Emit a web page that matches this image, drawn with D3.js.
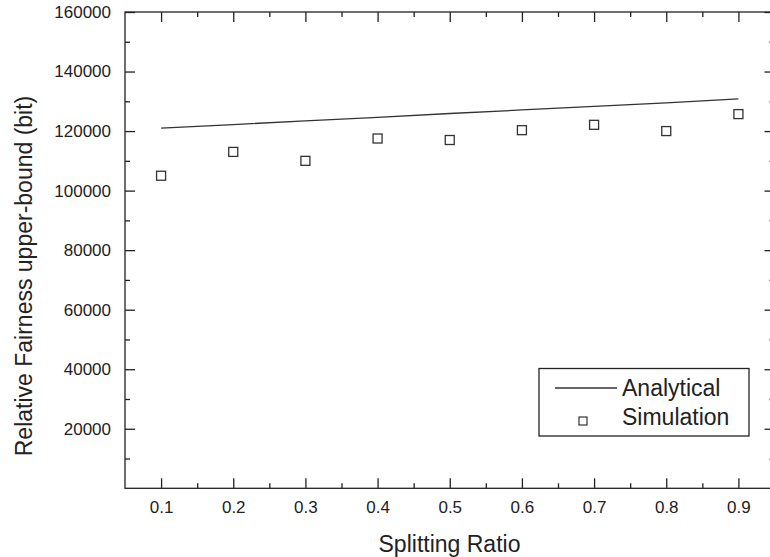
<!DOCTYPE html>
<html>
<head>
<meta charset="utf-8">
<script src="https://cdn.jsdelivr.net/npm/d3@7"></script>
<style>
  html, body { margin: 0; padding: 0; background: #fff; }
  svg { display: block; font-family: "Liberation Sans", Arial, sans-serif; }
  .axis text { fill: #222; font-size: 17px; }
  .axis path { display: none; }
  .axis line { stroke: #222; stroke-width: 1.3; }
</style>
</head>
<body>
<svg id="chart" width="770" height="557"></svg>
<script>
"use strict";

// ── Data ─────────────────────────────────────────────────────────────────────
const ratios      = [0.1, 0.2, 0.3, 0.4, 0.5, 0.6, 0.7, 0.8, 0.9];
const analytical  = [121000, 122200, 123400, 124600, 125900, 127100, 128300, 129500, 130800];
const simulation  = [105000, 113000, 110000, 117500, 117000, 120300, 122100, 120000, 125700];
const xTicks      = [0.1, 0.2, 0.3, 0.4, 0.5, 0.6, 0.7, 0.8, 0.9];
const xMinorTicks = [0.15, 0.25, 0.35, 0.45, 0.55, 0.65, 0.75, 0.85];
const yTicks      = [20000, 40000, 60000, 80000, 100000, 120000, 140000, 160000];
const yMinorTicks = [10000, 30000, 50000, 70000, 90000, 110000, 130000, 150000];

const ink = "#222";

// ── Layout ───────────────────────────────────────────────────────────────────
const svg = d3.select("#chart");
const box = { left: 125, right: 774.5, top: 12, bottom: 488.3 };

const x = d3.scaleLinear().domain([0.05, 0.95]).range([box.left, box.right]);
const y = d3.scaleLinear().domain([0, 160000]).range([box.bottom, box.top]);

// frame
svg.append("rect")
  .attr("x", box.left).attr("y", box.top)
  .attr("width", box.right - box.left).attr("height", box.bottom - box.top)
  .attr("fill", "none").attr("stroke", ink).attr("stroke-width", 1.3);

// ── Axes (ticks point inward) ────────────────────────────────────────────────
function addAxis(axis, transform) {
  svg.append("g").attr("class", "axis").attr("transform", transform).call(axis);
}

addAxis(d3.axisBottom(x).tickValues(xTicks).tickSize(-10).tickPadding(13).tickFormat(d3.format(".1f")),
  `translate(0,${box.bottom})`);
addAxis(d3.axisBottom(x).tickValues(xMinorTicks).tickSize(-5).tickFormat(""), `translate(0,${box.bottom})`);
addAxis(d3.axisTop(x).tickValues(xTicks).tickSize(-10).tickFormat(""), `translate(0,${box.top})`);
addAxis(d3.axisTop(x).tickValues(xMinorTicks).tickSize(-5).tickFormat(""), `translate(0,${box.top})`);

addAxis(d3.axisLeft(y).tickValues(yTicks).tickSize(-10).tickPadding(14).tickFormat(d3.format("d")),
  `translate(${box.left},0)`);
addAxis(d3.axisLeft(y).tickValues(yMinorTicks).tickSize(-5).tickFormat(""), `translate(${box.left},0)`);
addAxis(d3.axisRight(y).tickValues(yTicks).tickSize(-10).tickFormat(""), `translate(${box.right},0)`);
addAxis(d3.axisRight(y).tickValues(yMinorTicks).tickSize(-5).tickFormat(""), `translate(${box.right},0)`);

svg.selectAll(".axis .tick text").attr("fill", ink);

// axis titles
svg.append("text")
  .attr("x", 449.5).attr("y", 551.5)
  .attr("text-anchor", "middle")
  .attr("font-size", "23px").attr("fill", ink)
  .text("Splitting Ratio");

svg.append("text")
  .attr("transform", "translate(31.5,276) rotate(-90)")
  .attr("text-anchor", "middle")
  .attr("font-size", "23px").attr("fill", ink)
  .text("Relative Fairness upper-bound (bit)");

// ── Series ───────────────────────────────────────────────────────────────────
const line = d3.line()
  .x((d, i) => x(ratios[i]))
  .y(d => y(d));

svg.append("path")
  .datum(analytical)
  .attr("d", line)
  .attr("fill", "none")
  .attr("stroke", "#333")
  .attr("stroke-width", 1.3);

const sq = 9;
svg.selectAll(".sim")
  .data(simulation)
  .enter().append("rect")
  .attr("class", "sim")
  .attr("x", (d, i) => x(ratios[i]) - sq / 2)
  .attr("y", d => y(d) - sq / 2)
  .attr("width", sq).attr("height", sq)
  .attr("fill", "none")
  .attr("stroke", "#333")
  .attr("stroke-width", 1.3);

// ── Legend ───────────────────────────────────────────────────────────────────
const leg = svg.append("g");
leg.append("rect")
  .attr("x", 539).attr("y", 368.5)
  .attr("width", 210).attr("height", 67.5)
  .attr("fill", "#fff").attr("stroke", ink).attr("stroke-width", 1.3);

leg.append("line")
  .attr("x1", 555).attr("x2", 617)
  .attr("y1", 388).attr("y2", 388)
  .attr("stroke", "#333").attr("stroke-width", 1.3);

leg.append("rect")
  .attr("x", 583 - 4).attr("y", 421 - 4)
  .attr("width", 8).attr("height", 8)
  .attr("fill", "none").attr("stroke", "#333").attr("stroke-width", 1.2);

leg.selectAll(".leg-label")
  .data(["Analytical", "Simulation"])
  .enter().append("text")
  .attr("class", "leg-label")
  .attr("x", 622)
  .attr("y", (d, i) => i === 0 ? 396 : 425)
  .attr("font-size", "23px").attr("fill", ink)
  .text(d => d);
</script>
</body>
</html>
